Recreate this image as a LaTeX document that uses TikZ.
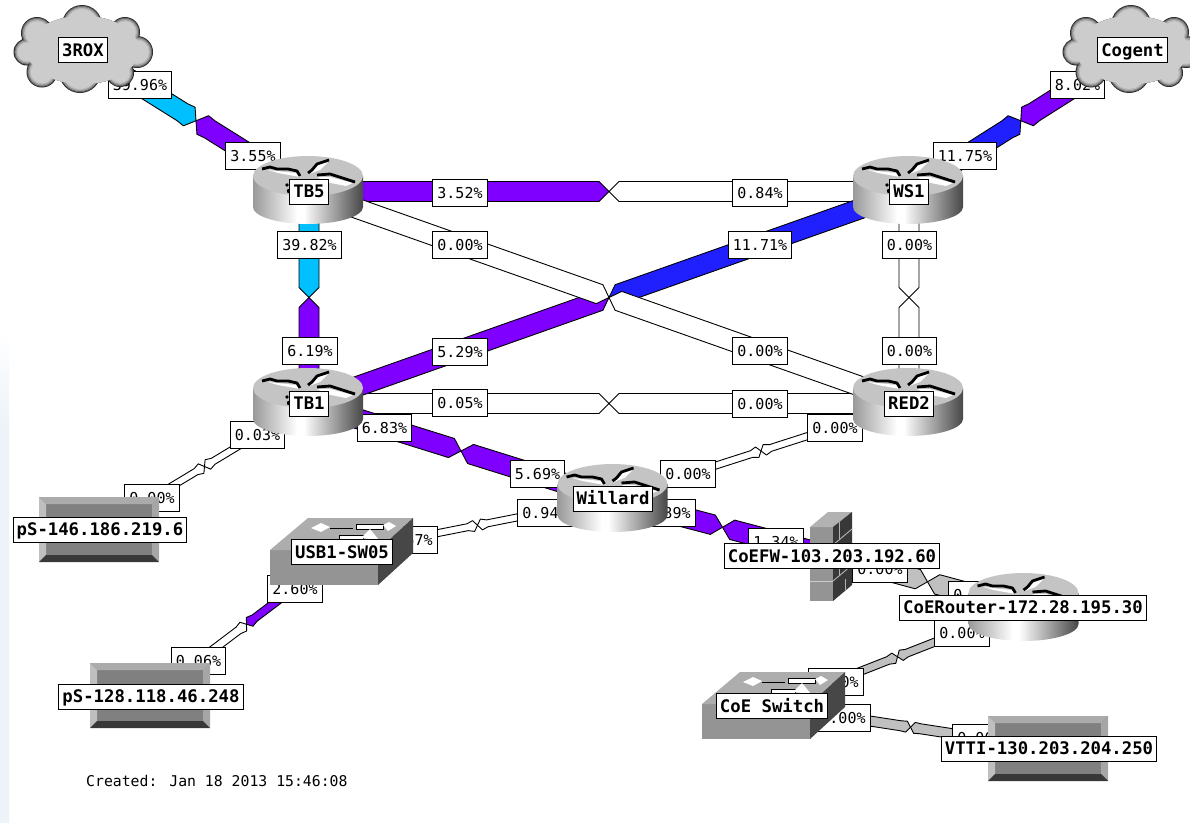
\documentclass[tikz,border=0pt]{standalone}
\usepackage{fontspec}
\setmainfont{DejaVu Sans Mono}
\usetikzlibrary{calc,backgrounds}
\pgfdeclarelayer{links}\pgfdeclarelayer{pcts}\pgfdeclarelayer{icons}
\pgfsetlayers{links,pcts,icons,main}
\definecolor{cyanL}{HTML}{00C0FF}
\definecolor{purpL}{HTML}{8000FF}
\definecolor{blueL}{HTML}{2020FF}
\definecolor{grayL}{HTML}{C0C0C0}
\definecolor{topG}{HTML}{C4C4C4}
\definecolor{fadeL}{HTML}{EDF3F8}
\pgfdeclarehorizontalshading{routerside}{100bp}{color(0bp)=(black!40);color(25bp)=(black!40);color(45bp)=(white);color(48bp)=(white);color(75bp)=(black!72);color(100bp)=(black!72)}
\pgfdeclareverticalshading{leftfade}{100bp}{color(0bp)=(fadeL);color(25bp)=(fadeL);color(65bp)=(fadeL);color(75bp)=(white);color(100bp)=(white)}
\tikzset{
  nlabel/.style={draw=black,fill=white,line width=1pt,font=\fontsize{17.3}{18}\selectfont\bfseries,inner xsep=3.5pt,inner ysep=0pt,minimum height=25pt,text height=12pt,text depth=0pt},
  pct/.style={draw=black,fill=white,line width=1pt,font=\fontsize{15}{16}\selectfont,inner xsep=4.5pt,inner ysep=0pt,minimum height=27pt,text height=11pt,text depth=0pt},
  linkedge/.style={draw=black,line width=0.9pt,line join=round},
  caption/.style={font=\fontsize{14.8}{16}\selectfont,inner sep=0pt,anchor=west}
}
\newcommand\halflink[7]{%
  \path ($(#1.center)!0.5!(#2.center)$) coordinate (mm);
  \path ($(mm)!#7!(#1.center)$) coordinate (hh);
  \path ($(hh)!#6!(#1.center)$) coordinate (ss);
  \draw[linkedge,fill=#3] ($(#1.center)!#4!90:(#2.center)$) -- ($(ss)!#4!90:(mm)$) -- ($(hh)!#5!90:(mm)$) -- (mm) -- ($(hh)!#5!-90:(mm)$) -- ($(ss)!#4!-90:(mm)$) -- ($(#1.center)!#4!-90:(#2.center)$) -- cycle;
}
\newcommand\biglink[4]{\halflink{#1}{#2}{#3}{10pt}{10pt}{0pt}{10pt}\halflink{#2}{#1}{#4}{10pt}{10pt}{0pt}{10pt}}
\newcommand\diaglink[4]{\halflink{#1}{#2}{#3}{10pt}{11pt}{8pt}{8pt}\halflink{#2}{#1}{#4}{10pt}{11pt}{8pt}{8pt}}
\newcommand\thinlink[5]{\halflink{#1}{#2}{#3}{#5}{5.5pt}{6pt}{4pt}\halflink{#2}{#1}{#4}{#5}{5.5pt}{6pt}{4pt}}
\newcommand\routerIcon[2]{%
  \begin{scope}[shift={(#1,#2)}]
    \shade[shading=routerside] (-55,-14) -- (-55,17) arc[start angle=180,end angle=0,x radius=55,y radius=17] -- (55,-14) -- cycle;
    \fill[topG] (0,-14) ellipse[x radius=55,y radius=20];
    \fill[white] (-40,-20) -- (-12,-17) -- (-8,-13) -- (-30,-17) -- cycle;
    \fill[white] (9,-13) -- (22,-13) -- (45,-7) -- (38,-4) -- (18,-8) -- cycle;
    \fill[white] (1,-16) -- (10,-25) -- (20,-28) -- (12,-20) -- cycle;
    \draw[black,line width=2.8pt,line join=round] (-46,-21) -- (-38,-23) -- (-31,-21) -- (-20,-21) -- (-11,-19) -- (-8,-14);
    \draw[black,line width=2.8pt,line join=round] (0,-17) -- (4,-20) -- (9,-26) -- (21,-30);
    \draw[black,line width=2.8pt,line join=round] (9,-15) -- (22,-16) -- (47,-8);
    \fill[black] (-21,-5) circle[radius=1.8];
    \fill[black] (-19,1) circle[radius=2.2];
  \end{scope}}
\newcommand\cloudLayer[2]{%
  \fill[#1] (-46,-17) circle[radius=16-#2] (-56,2) circle[radius=13.5-#2] (-41,22) circle[radius=15.5-#2] (-3,22) circle[radius=21-#2] (37,23) circle[radius=14-#2] (54,2) circle[radius=16-#2] (42,-18) circle[radius=15-#2] (-1,-25) circle[radius=20-#2] (0,0) ellipse[x radius=56,y radius=34];}
\newcommand\cloudIcon[2]{%
  \begin{scope}[shift={(#1,#2)}]
    \cloudLayer{black!85}{0}\cloudLayer{black!60}{0.8}\cloudLayer{black!40}{1.8}\cloudLayer{black!28}{3}\cloudLayer{black!20}{4.2}
  \end{scope}}
\newcommand\hostIcon[2]{%
  \begin{scope}[shift={(#1,#2)}]
    \fill[black!50] (-60,-33) rectangle (60,32);
    \fill[black!33] (-60,-33) -- (60,-33) -- (53,-26) -- (-53,-26) -- cycle;
    \fill[black!25] (-60,-33) -- (-53,-26) -- (-53,25) -- (-60,32) -- cycle;
    \fill[black!35] (60,-33) -- (53,-26) -- (53,25) -- (60,32) -- cycle;
    \fill[black!78] (-60,32) -- (-53,25) -- (53,25) -- (60,32) -- cycle;
  \end{scope}}
\newcommand\switchIcon[2]{%
  \begin{scope}[shift={(#1,#2)}]
    \fill[black!42] (-71,-2) rectangle (37,33);
    \fill[black!32] (-71,-2) -- (37,-2) -- (72,-34) -- (-33,-34) -- cycle;
    \fill[black!72] (37,-2) -- (72,-34) -- (72,1) -- (37,33) -- cycle;
    \fill[white] (-30,-24) -- (-20,-29) -- (-11,-25) -- (-20,-20) -- cycle;
    \draw[black,line width=1pt] (-11,-24) -- (12,-24);
    \draw[black,fill=white,line width=0.7pt] (15,-28) rectangle (42,-23);
    \fill[white] (42,-27) -- (48,-30) -- (55,-26) -- (47,-21) -- cycle;
    \draw[black,fill=white,line width=0.7pt] (-2,-17) rectangle (22,-12);
    \fill[white] (20,-14) -- (29,-23) -- (38,-12) -- cycle;
    \draw[black,line width=1pt] (-30,-13) -- (-24,-13);
  \end{scope}}
\newcommand\firewallIcon[2]{%
  \begin{scope}[shift={(#1,#2)}]
    \fill[black!42] (-21,-30) rectangle (2,44);
    \fill[black!30] (-21,-30) -- (-3,-45) -- (21,-45) -- (2,-30) -- cycle;
    \fill[black!78] (2,-30) -- (21,-45) -- (21,28) -- (2,44) -- cycle;
    \draw[black!20,line width=0.9pt] (-21,-12) -- (2,-12) (-21,6) -- (2,6) (-21,24) -- (2,24);
    \draw[black!30,line width=0.9pt] (2,-12) -- (21,-28) (2,6) -- (21,-10) (2,24) -- (21,8);
    \draw[black!30,line width=0.9pt] (8,-35) -- (8,-17) (14,-13) -- (14,5) (8,2) -- (8,18) (14,22) -- (14,33);
  \end{scope}}
\begin{document}
\begin{tikzpicture}[x=1pt,y=-1pt]
\useasboundingbox (0,0) rectangle (1190,822);
\shade[shading=leftfade] (0,330) rectangle (9,822);
% node labels (on top of everything)
\node[nlabel] (rox) at (83,50) {3ROX};
\node[nlabel] (cogent) at (1132.5,50) {Cogent};
\node[nlabel] (TB5) at (309,191.5) {TB5};
\node[nlabel] (WS1) at (909,191.5) {WS1};
\node[nlabel] (TB1) at (309,403.5) {TB1};
\node[nlabel] (RED2) at (909,403.5) {RED2};
\node[nlabel] (Willard) at (613,498.5) {Willard};
\node[nlabel] (CoEFW) at (832,556) {CoEFW-103.203.192.60};
\node[nlabel] (CoER) at (1023,607.5) {CoERouter-172.28.195.30};
\node[nlabel] (USB) at (342,552) {USB1-SW05};
\node[nlabel] (psA) at (100,529.5) {pS-146.186.219.6};
\node[nlabel] (psB) at (151,696.5) {pS-128.118.46.248};
\node[nlabel] (CoESw) at (772,706) {CoE Switch};
\node[nlabel] (VTTI) at (1049,748.5) {VTTI-130.203.204.250};
\node[caption] (created) at (86,781) {Created: Jan 18 2013 15:46:08};
\begin{pgfonlayer}{links}
  \diaglink{rox}{TB5}{cyanL}{purpL}
  \diaglink{cogent}{WS1}{purpL}{blueL}
  \biglink{TB5}{WS1}{purpL}{white}
  \biglink{TB5}{TB1}{cyanL}{purpL}
  \biglink{WS1}{RED2}{white}{white}
  \biglink{TB1}{RED2}{white}{white}
  \biglink{TB1}{WS1}{purpL}{blueL}
  \biglink{TB5}{RED2}{white}{white}
  \biglink{TB1}{Willard}{purpL}{purpL}
  \biglink{Willard}{CoEFW}{purpL}{purpL}
  \biglink{CoEFW}{CoER}{grayL}{grayL}
  \thinlink{TB1}{psA}{white}{white}{3.5pt}
  \thinlink{Willard}{RED2}{white}{white}{3.5pt}
  \thinlink{Willard}{USB}{white}{white}{3.5pt}
  \thinlink{USB}{psB}{purpL}{white}{4pt}
  \thinlink{CoER}{CoESw}{grayL}{grayL}{4pt}
  \thinlink{CoESw}{VTTI}{grayL}{grayL}{5pt}
\end{pgfonlayer}
\begin{pgfonlayer}{pcts}
  \node[pct] (l1) at (140,85) {39.96\%};
  \node[pct] (l2) at (253,155.5) {3.55\%};
  \node[pct] (l3) at (309.5,244.5) {39.82\%};
  \node[pct] (l4) at (310,351) {6.19\%};
  \node[pct] (l5) at (460,192.5) {3.52\%};
  \node[pct] (l6) at (760,192.5) {0.84\%};
  \node[pct] (l7) at (460,245) {0.00\%};
  \node[pct] (l8) at (760,245) {11.71\%};
  \node[pct] (l9) at (460,351.5) {5.29\%};
  \node[pct] (l10) at (760,351) {0.00\%};
  \node[pct] (l11) at (909.5,244.5) {0.00\%};
  \node[pct] (l12) at (909.5,351) {0.00\%};
  \node[pct] (l13) at (965,155.5) {11.75\%};
  \node[pct] (l14) at (1077.5,85) {8.02\%};
  \node[pct] (l15) at (460,403) {0.05\%};
  \node[pct] (l16) at (760,403.5) {0.00\%};
  \node[pct] (l17) at (384.5,428) {6.83\%};
  \node[pct] (l18) at (537.5,474) {5.69\%};
  \node[pct] (l19) at (688,474) {0.00\%};
  \node[pct] (l20) at (835,428) {0.00\%};
  \node[pct] (l21) at (257.5,434.5) {0.03\%};
  \node[pct] (l22) at (152,498) {0.00\%};
  \node[pct] (l23) at (545,512.5) {0.94\%};
  \node[pct] (l24) at (410,540) {0.67\%};
  \node[pct] (l25) at (776,542) {1.34\%};
  \node[pct] (l26) at (668,512.5) {1.89\%};
  \node[pct] (l27) at (880,569) {0.00\%};
  \node[pct] (l28) at (976,594.5) {0.00\%};
  \node[pct] (l29) at (962,632.5) {0.00\%};
  \node[pct] (l30) at (836,682) {0.00\%};
  \node[pct] (l31) at (843,717.5) {0.00\%};
  \node[pct] (l32) at (980,738) {0.00\%};
  \node[pct] (l33) at (295,589) {2.60\%};
  \node[pct] (l34) at (198.5,661) {0.06\%};
\end{pgfonlayer}
\begin{pgfonlayer}{icons}
  \cloudIcon{83}{50}
  \cloudIcon{1132}{50}
  \routerIcon{308}{190}
  \routerIcon{908}{190}
  \routerIcon{308}{402}
  \routerIcon{908}{402}
  \routerIcon{612.5}{498}
  \routerIcon{1023.5}{607}
  \hostIcon{99}{530}
  \hostIcon{150}{696}
  \hostIcon{1048}{749}
  \switchIcon{341}{552}
  \switchIcon{773}{706}
  \firewallIcon{831}{557}
\end{pgfonlayer}
\end{tikzpicture}
\end{document}
